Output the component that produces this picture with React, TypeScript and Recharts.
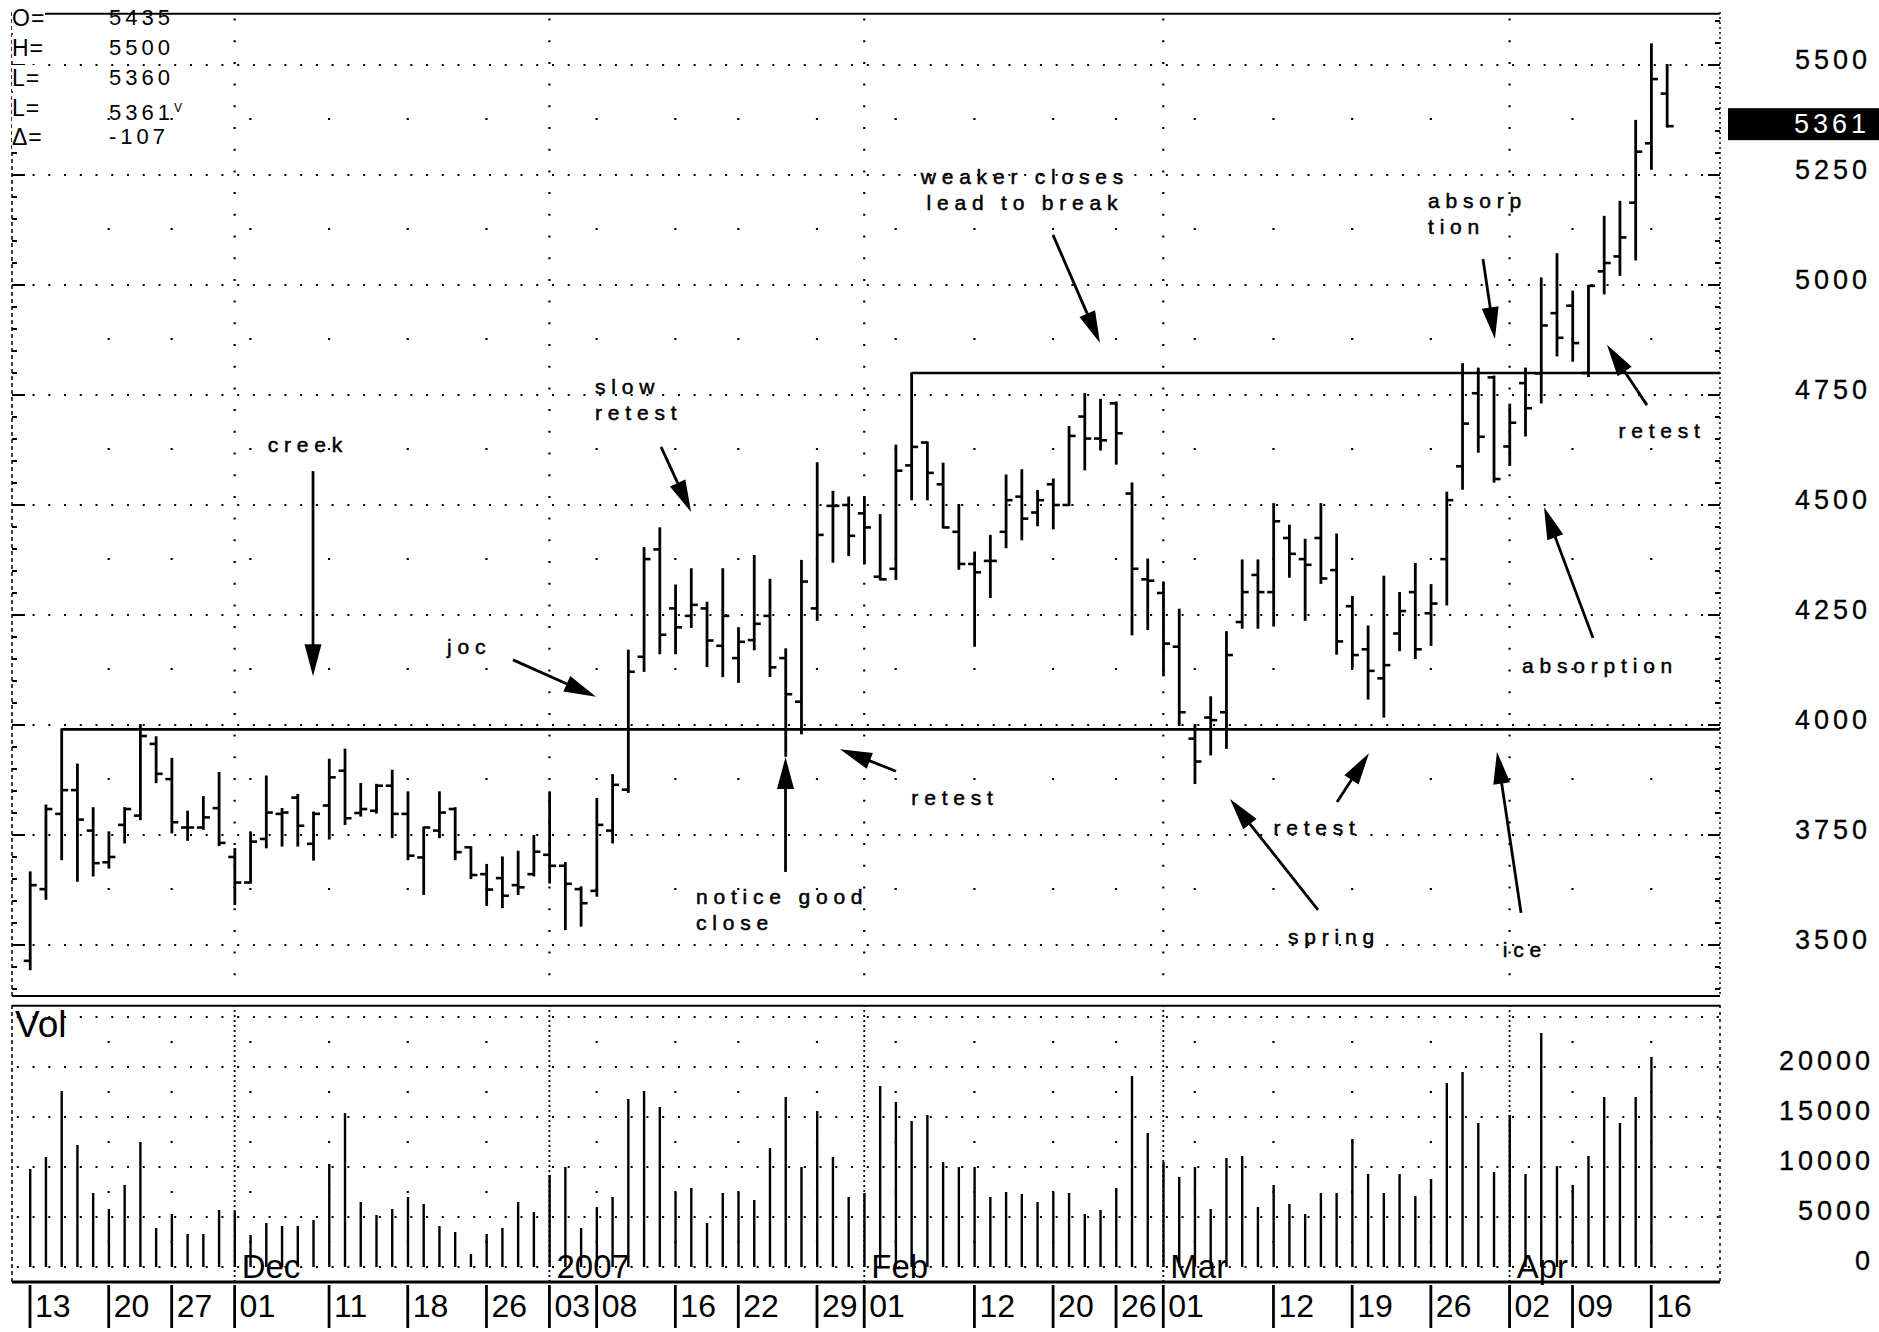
import React from 'react';
import { ComposedChart, Bar, XAxis, YAxis, ReferenceLine, ReferenceDot } from 'recharts';

const FONT = '"Liberation Sans", Arial, Helvetica, sans-serif';

// ---- categories (trading days) ----
const dates: string[] = [
  '2006-11-13','2006-11-14','2006-11-15','2006-11-16','2006-11-17','2006-11-20','2006-11-21','2006-11-22','2006-11-24','2006-11-27','2006-11-28','2006-11-29','2006-11-30',
  '2006-12-01','2006-12-04','2006-12-05','2006-12-06','2006-12-07','2006-12-08','2006-12-11','2006-12-12','2006-12-13','2006-12-14','2006-12-15','2006-12-18','2006-12-19','2006-12-20','2006-12-21','2006-12-22','2006-12-26','2006-12-27','2006-12-28','2006-12-29',
  '2007-01-03','2007-01-04','2007-01-05','2007-01-08','2007-01-09','2007-01-10','2007-01-11','2007-01-12','2007-01-16','2007-01-17','2007-01-18','2007-01-19','2007-01-22','2007-01-23','2007-01-24','2007-01-25','2007-01-26','2007-01-29','2007-01-30','2007-01-31',
  '2007-02-01','2007-02-02','2007-02-05','2007-02-06','2007-02-07','2007-02-08','2007-02-09','2007-02-12','2007-02-13','2007-02-14','2007-02-15','2007-02-16','2007-02-20','2007-02-21','2007-02-22','2007-02-23','2007-02-26','2007-02-27','2007-02-28',
  '2007-03-01','2007-03-02','2007-03-05','2007-03-06','2007-03-07','2007-03-08','2007-03-09','2007-03-12','2007-03-13','2007-03-14','2007-03-15','2007-03-16','2007-03-19','2007-03-20','2007-03-21','2007-03-22','2007-03-23','2007-03-26','2007-03-27','2007-03-28','2007-03-29','2007-03-30',
  '2007-04-02','2007-04-03','2007-04-04','2007-04-05','2007-04-09','2007-04-10','2007-04-11','2007-04-12','2007-04-13','2007-04-16','2007-04-17',
];

// ---- series values ----
const opens: number[] = [
  3464,3627,3798,3852,3760,3688,3773,3794,3957,3877,3767,3767,3811,
  3700,3642,3741,3798,3835,3730,3817,3896,3800,3805,3862,3798,3699,3760,3809,3722,3661,3652,3636,3661,
  3705,3680,3627,3623,3760,3853,4155,4399,4265,4248,4265,4180,4152,4193,4248,4152,4053,4265,4498,4500,
  4481,4337,4355,4590,4642,4547,4439,4366,4373,4439,4519,4483,4547,4500,4701,4651,4731,4526,4331,
  4300,4178,3969,4017,4029,4234,4341,4302,4425,4377,4425,4352,4270,4172,4106,4208,4302,4254,4377,4588,
  4754,4790,4633,4777,4799,4936,4953,4800,5031,5065,5187,5322,5435,
];
const highs: number[] = [
  3665,3817,3990,3910,3811,3756,3811,4000,3972,3923,3803,3836,3891,
  3718,3756,3883,3809,3841,3801,3921,3944,3866,3864,3896,3847,3767,3847,3811,3722,3682,3699,3712,3748,
  3847,3686,3631,3832,3886,4169,4402,4447,4317,4354,4278,4354,4220,4384,4330,4172,4373,4595,4530,4517,
  4517,4477,4635,4799,4642,4594,4500,4392,4430,4567,4579,4532,4558,4677,4752,4739,4733,4549,4376,
  4324,4262,4000,4063,4211,4374,4374,4502,4453,4421,4502,4433,4291,4224,4337,4300,4366,4318,4528,4820,
  4810,4792,4728,4810,5015,5070,4985,4998,5155,5189,5373,5547,5500,
];
const lows: number[] = [
  3445,3605,3695,3646,3658,3676,3733,3786,3870,3756,3739,3764,3727,
  3593,3642,3722,3726,3726,3694,3742,3775,3794,3801,3745,3695,3616,3745,3695,3652,3591,3586,3616,3658,
  3642,3536,3544,3612,3733,3848,4123,4163,4163,4223,4134,4111,4098,4172,4111,3930,3981,4239,4371,4386,
  4367,4331,4332,4513,4513,4449,4355,4180,4291,4404,4422,4454,4447,4500,4581,4626,4594,4206,4218,
  4113,4000,3868,3933,3948,4221,4221,4226,4337,4239,4323,4162,4132,4060,4019,4170,4152,4182,4274,4537,
  4621,4553,4591,4658,4733,4840,4828,4793,4981,5023,5058,5264,5360,
];
const closes: number[] = [
  3636,3809,3852,3785,3686,3700,3809,3975,3889,3779,3767,3790,3732,
  3642,3735,3801,3801,3771,3798,3881,3788,3809,3862,3798,3703,3767,3801,3711,3659,3626,3612,3631,3712,
  3680,3639,3595,3773,3864,4121,4377,4205,4222,4273,4192,4248,4189,4230,4131,4070,4326,4432,4498,4430,
  4449,4331,4578,4632,4573,4449,4366,4347,4373,4511,4469,4511,4500,4657,4651,4647,4663,4355,4328,
  4185,4029,3917,4011,4159,4302,4302,4463,4389,4364,4333,4190,4159,4123,4136,4259,4172,4276,4511,4685,
  4655,4559,4687,4720,4908,4880,4868,4998,5050,5108,5303,5468,5361,
];
const volumes: (number | null)[] = [
  9800,11000,17600,12200,7400,5800,8200,12500,3900,5300,3300,3300,5700,
  5600,3200,4400,4100,4100,4700,10300,15400,6500,5200,5800,7000,6300,4100,3500,1300,3300,3900,6500,5500,
  9200,10000,3900,6000,7000,16800,17600,16000,7500,7900,4400,7400,7500,6700,11900,17000,10000,15600,11000,7000,
  7400,18100,16500,14600,15200,10500,10000,10000,7000,7500,7300,6500,7500,7400,5300,5700,7900,19100,13400,
  10500,9000,10000,5800,10900,11100,6000,8200,6300,5300,7400,7400,12800,9300,7400,9300,7100,8800,18400,19500,
  14400,9500,15200,9300,23400,10100,8200,11100,17000,14400,17000,21000,null,
];

// ---- tick labels ----
const dayTickLabels: [string, string][] = [
  ['2006-11-13','13'],['2006-11-20','20'],['2006-11-27','27'],['2006-12-01','01'],['2006-12-11','11'],['2006-12-18','18'],['2006-12-26','26'],
  ['2007-01-03','03'],['2007-01-08','08'],['2007-01-16','16'],['2007-01-22','22'],['2007-01-29','29'],['2007-02-01','01'],['2007-02-12','12'],
  ['2007-02-20','20'],['2007-02-26','26'],['2007-03-01','01'],['2007-03-12','12'],['2007-03-19','19'],['2007-03-26','26'],['2007-04-02','02'],
  ['2007-04-09','09'],['2007-04-16','16'],
];
const monthMarks: [string, string][] = [
  ['2006-12-01','Dec'],['2007-01-03','2007'],['2007-02-01','Feb'],['2007-03-01','Mar'],['2007-04-02','Apr'],
];
const weekStarts: string[] = [
  '2006-11-20','2006-11-27','2006-12-04','2006-12-11','2006-12-18','2006-12-26','2007-01-08','2007-01-16','2007-01-22','2007-01-29',
  '2007-02-05','2007-02-12','2007-02-20','2007-02-26','2007-03-05','2007-03-12','2007-03-19','2007-03-26','2007-04-09','2007-04-16',
];
const priceGrid: number[] = [3500,3750,4000,4250,4500,4750,5000,5250,5500];
const priceAxisTicks: number[] = [
  3400,3450,3500,3550,3600,3650,3700,3750,3800,3850,3900,3950,4000,4050,4100,4150,4200,4250,4300,4350,4400,4450,4500,
  4550,4600,4650,4700,4750,4800,4850,4900,4950,5000,5050,5100,5150,5200,5250,5300,5350,5400,5450,5500,5550,5600,
];
const volGrid: number[] = [0,5000,10000,15000,20000,25000];
const volLabels: number[] = [0,5000,10000,15000,20000];
const headerRows: [string, string, string][] = [
  ['O=','5435',''],['H=','5500',''],['L=','5360',''],['L=','5361','V'],['Δ=','-107',''],
];
const supportLevel = 3990;
const resistanceLevel = 4800;

// annotations: text in (bar index, price); arrows tail -> tip
type Ann = { lines: string[]; x: number; y: number; anchor: 'start' | 'middle'; tail: [number, number]; tip: [number, number] };
const annotations: Ann[] = [
  { lines: ['creek'], x: 17.66, y: 4638, anchor: 'middle', tail: [17.98, 4577], tip: [17.98, 4111] },
  { lines: ['joc'], x: 27.9, y: 4180, anchor: 'middle', tail: [30.69, 4148], tip: [35.96, 4064] },
  { lines: ['slow', 'retest'], x: 35.9, y: 4771, anchor: 'start', tail: [40.09, 4632], tip: [42.0, 4484] },
  { lines: ['notice good', 'close'], x: 42.31, y: 3611, anchor: 'start', tail: [48.0, 3666], tip: [48.0, 3927] },
  { lines: ['retest'], x: 58.77, y: 3836, anchor: 'middle', tail: [55.02, 3895], tip: [51.46, 3945] },
  { lines: ['weaker closes', 'lead to break'], x: 63.21, y: 5248, anchor: 'middle', tail: [64.99, 5114], tip: [67.98, 4868] },
  { lines: ['spring'], x: 82.85, y: 3520, anchor: 'middle', tail: [81.83, 3580], tip: [76.24, 3832] },
  { lines: ['retest'], x: 81.77, y: 3768, anchor: 'middle', tail: [83.04, 3825], tip: [85.07, 3936] },
  { lines: ['ice'], x: 94.98, y: 3491, anchor: 'middle', tail: [94.73, 3573], tip: [93.2, 3939] },
  { lines: ['absorption'], x: 99.75, y: 4136, anchor: 'middle', tail: [99.3, 4198], tip: [96.19, 4495] },
  { lines: ['absorp', 'tion'], x: 88.82, y: 5193, anchor: 'start', tail: [92.31, 5059], tip: [93.07, 4877] },
  { lines: ['retest'], x: 103.69, y: 4670, anchor: 'middle', tail: [102.73, 4727], tip: [100.19, 4864] },
];

// ---- layout constants ----
const X_MIN = -1.1436;
const X_MAX = 107.37;
const P_MIN = 3381.8;
const P_MAX = 5620.45;
const V_MIN = -1500;
const V_MAX = 26200;
const BAND_PAD = { left: 10.13, right: 45.17 };

const rows = dates.map((d, i) => ({
  d, i, o: opens[i], h: highs[i], l: lows[i], c: closes[i],
  hl: [lows[i], highs[i]], v: volumes[i],
}));
const dayLabelMap: Record<string, string> = Object.fromEntries(dayTickLabels);
const idxOf = (d: string) => dates.indexOf(d);

const OhlcShape = (props: any) => {
  const { x, y, width, height, payload } = props;
  if (!payload || height == null || isNaN(y)) return null;
  const cx = x + width / 2;
  const top = Math.min(y, y + height);
  const bot = Math.max(y, y + height);
  const span = payload.h - payload.l || 1;
  const yO = top + ((payload.h - payload.o) / span) * (bot - top);
  const yC = top + ((payload.h - payload.c) / span) * (bot - top);
  return (
    <g>
      <line x1={cx} x2={cx} y1={top - 1} y2={bot + 1} stroke="#000" strokeWidth={2.8} />
      <line x1={cx - 6.5} x2={cx} y1={yO} y2={yO} stroke="#000" strokeWidth={2.6} />
      <line x1={cx} x2={cx + 6.5} y1={yC} y2={yC} stroke="#000" strokeWidth={2.6} />
    </g>
  );
};

const VolShape = (props: any) => {
  const { x, y, width, height } = props;
  if (height == null || isNaN(y)) return null;
  const top = Math.min(y, y + height);
  const bot = Math.max(y, y + height);
  if (bot - top < 0.5) return null;
  const cx = x + width / 2;
  return <line x1={cx} x2={cx} y1={top} y2={bot} stroke="#000" strokeWidth={2.4} />;
};

const PriceTick = (props: any) => {
  const { x, y, payload } = props;
  const v = payload.value;
  const major = v % 250 === 0;
  const lab = major && v >= 3500 && v <= 5500;
  return (
    <g>
      <line x1={x - (major ? 12 : 5)} x2={x} y1={y} y2={y} stroke="#000" strokeWidth={2} />
      {lab && (
        <text x={x + 151} y={y - 5} textAnchor="end" dominantBaseline="central" fontSize={27} letterSpacing={4} fontFamily={FONT} fill="#000" stroke="#000" strokeWidth={0.3}>
          {v}
        </text>
      )}
    </g>
  );
};

const LeftTick = (props: any) => {
  const { x, y, payload } = props;
  const major = payload.value % 250 === 0;
  return <line x1={x} x2={x + (major ? 13 : 5)} y1={y} y2={y} stroke="#000" strokeWidth={2} />;
};

const VolTick = (props: any) => {
  const { x, y, payload } = props;
  if (!volLabels.includes(payload.value)) return null;
  return (
    <text x={x + 154} y={y - 6} textAnchor="end" dominantBaseline="central" fontSize={27} letterSpacing={4} fontFamily={FONT} fill="#000" stroke="#000" strokeWidth={0.3}>
      {payload.value}
    </text>
  );
};

const DayTick = (props: any) => {
  const { x, y, payload } = props;
  const lab = dayLabelMap[payload.value];
  if (!lab) return null;
  return (
    <g>
      <line x1={x} x2={x} y1={y + 3} y2={y + 46} stroke="#000" strokeWidth={2.8} />
      <text x={x + 5} y={y + 35} fontSize={32} fontFamily={FONT} fill="#000">{lab}</text>
    </g>
  );
};

const arrowShape = (p: any) => {
  const { x1, y1, x2, y2 } = p;
  const dx = x2 - x1;
  const dy = y2 - y1;
  const len = Math.hypot(dx, dy) || 1;
  const ux = dx / len;
  const uy = dy / len;
  const hl = 32;
  const hw = 8.5;
  const bx = x2 - ux * hl;
  const by = y2 - uy * hl;
  const pts = `${x2},${y2} ${bx - uy * hw},${by + ux * hw} ${bx + uy * hw},${by - ux * hw}`;
  return (
    <g>
      <line x1={x1} y1={y1} x2={bx + ux * 4} y2={by + uy * 4} stroke="#000" strokeWidth={2.8} />
      <polygon points={pts} fill="#000" />
    </g>
  );
};

const textShape = (lines: string[], anchor: string) => (p: any) => (
  <text x={p.cx} y={p.cy} textAnchor={anchor} dominantBaseline="central" fontSize={21} letterSpacing={5.8} fontFamily={FONT} fill="#000" stroke="#000" strokeWidth={0.5}>
    {lines.map((ln, k) => (
      <tspan key={k} x={p.cx} dy={k === 0 ? 0 : 26}>{ln}</tspan>
    ))}
  </text>
);

const simpleText = (txt: string, size: number) => (p: any) => (
  <text x={p.cx} y={p.cy} fontSize={size} fontFamily={FONT} fill="#000">{txt}</text>
);

const lastBox = (p: any) => (
  <g>
    <rect x={p.cx + 8} y={p.cy - 18} width={151} height={32} fill="#000" />
    <text x={p.cx + 150} y={p.cy - 2} textAnchor="end" dominantBaseline="central" fontSize={27} letterSpacing={4} fontFamily={FONT} fill="#fff">
      {closes[closes.length - 1]}
    </text>
  </g>
);

function PriceChart() {
  return (
    <ComposedChart width={1879} height={1000} data={rows} margin={{ top: 12, right: 0, bottom: 3, left: 12 }}>
      <XAxis xAxisId="c" dataKey="d" type="category" hide padding={BAND_PAD} />
      <XAxis xAxisId="n" dataKey="i" type="number" hide domain={[X_MIN, X_MAX]} allowDataOverflow />
      <YAxis yAxisId="R" orientation="right" width={159} domain={[P_MIN, P_MAX]} allowDataOverflow ticks={priceAxisTicks} interval={0}
        tickSize={0} tickMargin={0} tickLine={false} axisLine={{ stroke: '#000', strokeWidth: 1.5, strokeDasharray: '2 3' }} tick={PriceTick} />
      <YAxis yAxisId="L" orientation="left" mirror domain={[P_MIN, P_MAX]} allowDataOverflow ticks={priceAxisTicks} interval={0}
        tickSize={0} tickMargin={0} tickLine={false} axisLine={{ stroke: '#000', strokeWidth: 1.5, strokeDasharray: '4 3' }} tick={LeftTick} />

      {priceGrid.map((v) => (
        <ReferenceLine key={'pg' + v} xAxisId="n" yAxisId="R" y={v} stroke="#000" strokeWidth={2.2} strokeDasharray="2 13.74" strokeDashoffset={14.48} ifOverflow="visible" />
      ))}
      {weekStarts.map((d) => (
        <ReferenceLine key={'pw' + d} xAxisId="n" yAxisId="R" x={idxOf(d)} stroke="#000" strokeWidth={2.2} strokeDasharray="2 108" strokeDashoffset={3} ifOverflow="visible" />
      ))}
      {monthMarks.map(([d]) => (
        <ReferenceLine key={'pm' + d} xAxisId="n" yAxisId="R" x={idxOf(d)} stroke="#000" strokeWidth={2.2} strokeDasharray="2 19.7" ifOverflow="visible" />
      ))}
      <ReferenceLine xAxisId="n" yAxisId="R" y={P_MAX - 4} stroke="#000" strokeWidth={2} ifOverflow="visible" />
      <ReferenceLine xAxisId="n" yAxisId="R" y={P_MIN + 2} stroke="#000" strokeWidth={2} ifOverflow="visible" />

      <ReferenceLine xAxisId="n" yAxisId="R" segment={[{ x: 2, y: supportLevel }, { x: X_MAX, y: supportLevel }]} stroke="#000" strokeWidth={2.6} ifOverflow="visible" />
      <ReferenceLine xAxisId="n" yAxisId="R" segment={[{ x: 56, y: resistanceLevel }, { x: X_MAX, y: resistanceLevel }]} stroke="#000" strokeWidth={2.6} ifOverflow="visible" />

      <Bar xAxisId="c" yAxisId="R" dataKey="hl" shape={OhlcShape} isAnimationActive={false} />

      {annotations.map((a, k) => (
        <ReferenceLine key={'aa' + k} xAxisId="n" yAxisId="R" segment={[{ x: a.tail[0], y: a.tail[1] }, { x: a.tip[0], y: a.tip[1] }]}
          ifOverflow="visible" shape={arrowShape} />
      ))}
      {annotations.map((a, k) => (
        <ReferenceDot key={'at' + k} xAxisId="n" yAxisId="R" x={a.x} y={a.y} r={1} ifOverflow="visible" shape={textShape(a.lines, a.anchor)} />
      ))}
      <ReferenceDot xAxisId="n" yAxisId="R" x={X_MAX} y={closes[closes.length - 1]} r={1} ifOverflow="visible" shape={lastBox} />
    </ComposedChart>
  );
}

function VolumeChart() {
  return (
    <ComposedChart width={1879} height={332} data={rows} margin={{ top: 5, right: 0, bottom: 0, left: 12 }}>
      <XAxis xAxisId="c" dataKey="d" type="category" padding={BAND_PAD} height={50} interval={0} tickSize={0} tickMargin={0}
        tickLine={false} axisLine={{ stroke: '#000', strokeWidth: 3 }} tick={DayTick} />
      <XAxis xAxisId="n" dataKey="i" type="number" hide domain={[X_MIN, X_MAX]} allowDataOverflow />
      <YAxis yAxisId="R" orientation="right" width={159} domain={[V_MIN, V_MAX]} allowDataOverflow ticks={volGrid} interval={0}
        tickSize={0} tickMargin={0} tickLine={false} axisLine={{ stroke: '#000', strokeWidth: 1.5, strokeDasharray: '3 4' }} tick={VolTick} />
      <YAxis yAxisId="L" orientation="left" mirror domain={[V_MIN, V_MAX]} allowDataOverflow tick={false} tickLine={false}
        axisLine={{ stroke: '#000', strokeWidth: 1.5, strokeDasharray: '4 3' }} />

      {volGrid.map((v) => (
        <ReferenceLine key={'vg' + v} xAxisId="n" yAxisId="R" y={v} stroke="#000" strokeWidth={2.2} strokeDasharray="2 13.74" strokeDashoffset={14.48} ifOverflow="visible" />
      ))}
      {weekStarts.map((d) => (
        <ReferenceLine key={'vw' + d} xAxisId="n" yAxisId="R" x={idxOf(d)} stroke="#000" strokeWidth={2.2} strokeDasharray="2 48" strokeDashoffset={11} ifOverflow="visible" />
      ))}
      {monthMarks.map(([d]) => (
        <ReferenceLine key={'vm' + d} xAxisId="n" yAxisId="R" x={idxOf(d)} stroke="#000" strokeWidth={1.8} strokeDasharray="2 3" ifOverflow="visible" />
      ))}
      <ReferenceLine xAxisId="n" yAxisId="R" y={V_MAX - 80} stroke="#000" strokeWidth={2} ifOverflow="visible" />

      <Bar xAxisId="c" yAxisId="R" dataKey="v" shape={VolShape} isAnimationActive={false} />

      <ReferenceDot xAxisId="n" yAxisId="R" x={-0.95} y={23000} r={1} ifOverflow="visible" shape={simpleText('Vol', 37)} />
      {monthMarks.map(([d, lab]) => (
        <ReferenceDot key={'ml' + d} xAxisId="n" yAxisId="R" x={idxOf(d) + 0.45} y={-1100} r={1} ifOverflow="visible" shape={simpleText(lab, 33)} />
      ))}
    </ComposedChart>
  );
}

export default function App() {
  const rowCenters = [18, 48, 78, 108, 137];
  return (
    <div style={{ position: 'absolute', left: 0, top: 0, width: 1879, height: 1332, background: '#fff', overflow: 'hidden', fontFamily: FONT }}>
      <div style={{ position: 'absolute', left: 0, top: 0 }}>
        <PriceChart />
      </div>
      <div style={{ position: 'absolute', left: 0, top: 1000 }}>
        <VolumeChart />
      </div>
      {headerRows.map(([lab, val, sup], k) => (
        <React.Fragment key={k}>
          <div style={{ position: 'absolute', left: 12, top: rowCenters[k] - 13, fontSize: 23, lineHeight: '26px', letterSpacing: 1, color: '#000', background: '#fff' }}>
            {lab}
          </div>
          <div style={{ position: 'absolute', left: 109, top: rowCenters[k] - 13, fontSize: 22, lineHeight: '26px', letterSpacing: 4, color: '#000' }}>
            {val}
            {sup && <span style={{ fontSize: 12, verticalAlign: 'super', letterSpacing: 0 }}>{sup}</span>}
          </div>
        </React.Fragment>
      ))}
    </div>
  );
}
